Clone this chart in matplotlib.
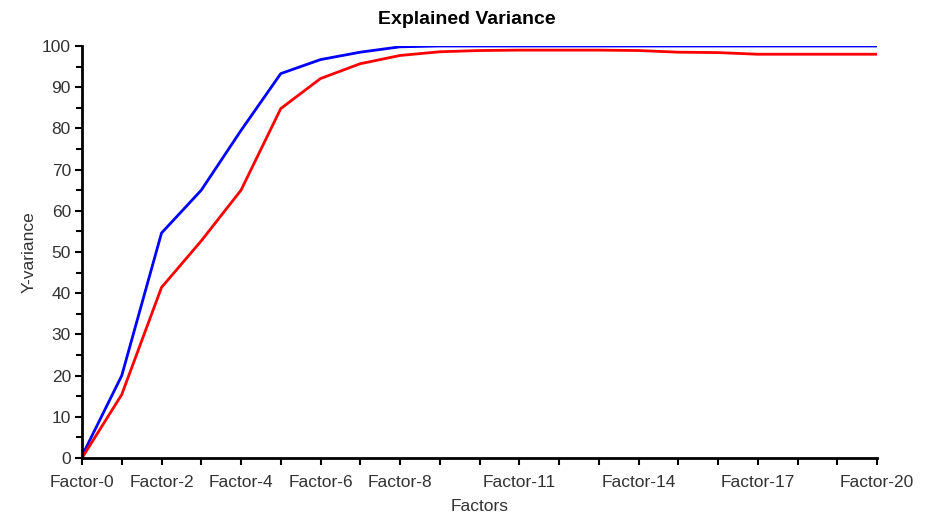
import matplotlib
matplotlib.use("Agg")
import matplotlib.pyplot as plt
from matplotlib.ticker import MultipleLocator

factors = [f"Factor-{i}" for i in range(21)]
blue_values = [0.5, 20, 54.6, 65, 79.5, 93.3, 96.7, 98.5, 99.8, 100, 100, 100, 100,
               100, 100, 100, 100, 100, 100, 100, 100]
red_values = [0, 15.4, 41.4, 52.7, 65, 84.8, 92.1, 95.7, 97.7, 98.6, 98.9, 99, 99,
              99, 98.9, 98.5, 98.4, 98, 98, 98, 98]
shown_labels = ["Factor-0", "Factor-2", "Factor-4", "Factor-6", "Factor-8",
                "Factor-11", "Factor-14", "Factor-17", "Factor-20"]

plt.rcParams['font.family'] = ['Liberation Sans', 'DejaVu Sans']

fig = plt.figure(figsize=(9.26, 5.13), dpi=100)
ax = fig.add_axes([82/926, 1 - 458/513, (877-82)/926, (458-46)/513])

x = list(range(len(factors)))
ax.plot(x, blue_values, color='#0000ff', lw=2)
ax.plot(x, red_values, color='#ff0000', lw=2)

ax.set_xlim(0, 20)
ax.set_ylim(0, 100)
ax.set_xticks(x)
ax.set_xticklabels([f if f in shown_labels else "" for f in factors], fontsize=12.5,
                   color='#333333')
ax.yaxis.set_major_locator(MultipleLocator(10))
ax.yaxis.set_minor_locator(MultipleLocator(5))
ax.tick_params(axis='y', labelsize=12.5, length=5, width=1.5, pad=3, labelcolor='#333333')
ax.tick_params(axis='y', which='minor', length=4, width=1.5)
ax.tick_params(axis='x', length=5, width=1.5, pad=7)

for s in ['top', 'right']:
    ax.spines[s].set_visible(False)
for s in ['left', 'bottom']:
    ax.spines[s].set_linewidth(2)

fig.text(467/926, 1 - 20/513, "Explained Variance", fontsize=14, fontweight='bold',
         ha='center', va='center')
ax.set_xlabel("Factors", fontsize=12.5, labelpad=7, color='#333333')
ax.set_ylabel("Y-variance", fontsize=12.5, labelpad=4, color='#333333')

fig.savefig("out.png", dpi=100)
